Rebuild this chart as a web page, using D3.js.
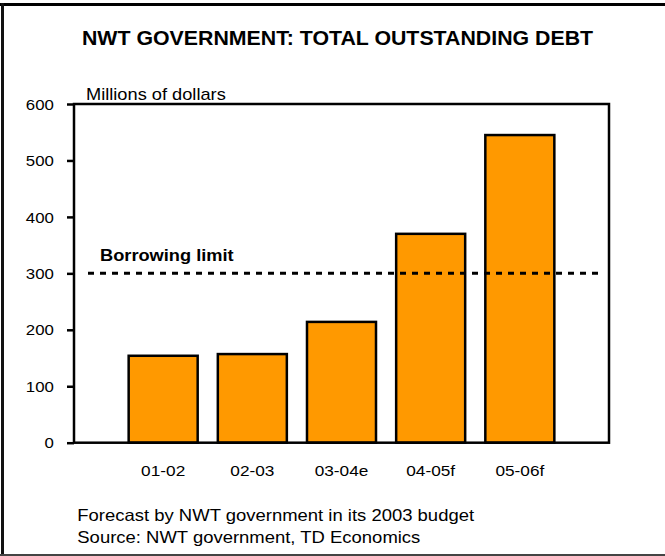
<!DOCTYPE html>
<html>
<head>
<meta charset="utf-8">
<script src="https://cdn.jsdelivr.net/npm/d3@7"></script>
<style>
  html, body { margin: 0; padding: 0; background: #fff; }
  svg { display: block; font-family: "Liberation Sans", Arial, sans-serif; }
</style>
</head>
<body>
<svg id="chart" width="665" height="556"></svg>
<script>
// Fiscal years and total outstanding debt (millions of dollars)
const years = ["01-02", "02-03", "03-04e", "04-05f", "05-06f"];
const debt = [154, 157, 214, 370, 545];
const yTicks = [0, 100, 200, 300, 400, 500, 600];
const borrowingLimit = 300;

const titleText = "NWT GOVERNMENT: TOTAL OUTSTANDING DEBT";
const unitText = "Millions of dollars";
const limitText = "Borrowing limit";
const notes = ["Forecast by NWT government in its 2003 budget",
               "Source: NWT government, TD Economics"];

const svg = d3.select("#chart");
const plot = { left: 74, right: 609, top: 104, bottom: 442.7 };
const sx = 1.12; // horizontal stretch of lettering

// outer frame: top, left and bottom rules
svg.append("line").attr("x1", 0).attr("x2", 665).attr("y1", 4.5).attr("y2", 4.5)
  .attr("stroke", "#000").attr("stroke-width", 3);
svg.append("line").attr("x1", 2.5).attr("x2", 2.5).attr("y1", 3).attr("y2", 556)
  .attr("stroke", "#111").attr("stroke-width", 3);
svg.append("line").attr("x1", 0).attr("x2", 665).attr("y1", 555).attr("y2", 555)
  .attr("stroke", "#444").attr("stroke-width", 2);

function label(x, y, text, opts) {
  const s = opts.sx || sx;
  return svg.append("text")
    .attr("transform", `translate(${x},${y}) scale(${s},1)`)
    .attr("text-anchor", opts.anchor || "start")
    .attr("font-size", opts.size)
    .attr("font-weight", opts.bold ? "bold" : "normal")
    .attr("fill", "#000")
    .text(text);
}

label(337.5, 44.5, titleText, { size: 20.5, bold: true, anchor: "middle", sx: 1.04 });
label(86, 100, unitText, { size: 16, sx: 1.14 });

const x = d3.scaleBand()
  .domain(years)
  .range([plot.left, plot.right])
  .paddingInner(0.226)
  .paddingOuter(0.613);

const y = d3.scaleLinear()
  .domain([0, 600])
  .range([plot.bottom, plot.top]);

// bars
svg.append("g").selectAll("rect")
  .data(years)
  .join("rect")
  .attr("x", d => x(d))
  .attr("width", x.bandwidth())
  .attr("y", (d, i) => y(debt[i]))
  .attr("height", (d, i) => y(0) - y(debt[i]))
  .attr("fill", "#FF9900")
  .attr("stroke", "#000")
  .attr("stroke-width", 2.5);

// plot frame
svg.append("rect")
  .attr("x", plot.left).attr("y", plot.top)
  .attr("width", plot.right - plot.left)
  .attr("height", plot.bottom - plot.top)
  .attr("fill", "none")
  .attr("stroke", "#000")
  .attr("stroke-width", 2.5);

// y axis
const yAxis = svg.append("g")
  .attr("transform", `translate(${plot.left},0)`)
  .call(d3.axisLeft(y).tickValues(yTicks).tickSize(7).tickPadding(11).tickFormat(d3.format("d")));
yAxis.select(".domain").remove();
yAxis.selectAll(".tick line").attr("stroke", "#000").attr("stroke-width", 2.5);
yAxis.selectAll(".tick text")
  .attr("font-size", 15)
  .attr("font-family", "Liberation Sans, Arial, sans-serif")
  .attr("fill", "#000")
  .attr("dy", "0.34em")
  .attr("transform", `scale(${sx},1)`);

// x axis labels
const xAxis = svg.append("g")
  .attr("transform", `translate(0,${plot.bottom})`)
  .call(d3.axisBottom(x).tickSize(0).tickPadding(0));
xAxis.select(".domain").remove();
xAxis.selectAll(".tick text")
  .attr("font-size", 15)
  .attr("font-family", "Liberation Sans, Arial, sans-serif")
  .attr("fill", "#000")
  .attr("y", 0)
  .attr("dy", 0)
  .attr("transform", `translate(0,33) scale(1.15,1)`);

// borrowing limit
svg.append("line")
  .attr("x1", plot.left + 14).attr("x2", plot.right - 8)
  .attr("y1", y(borrowingLimit)).attr("y2", y(borrowingLimit))
  .attr("stroke", "#000").attr("stroke-width", 3)
  .attr("stroke-dasharray", "6,6");
label(100, 260.7, limitText, { size: 16, bold: true, sx: 1.14 });

// notes
notes.forEach((t, i) => label(77.3, 520.7 + i * 22.6, t, { size: 16.5, sx: 1.12 }));
</script>
</body>
</html>
